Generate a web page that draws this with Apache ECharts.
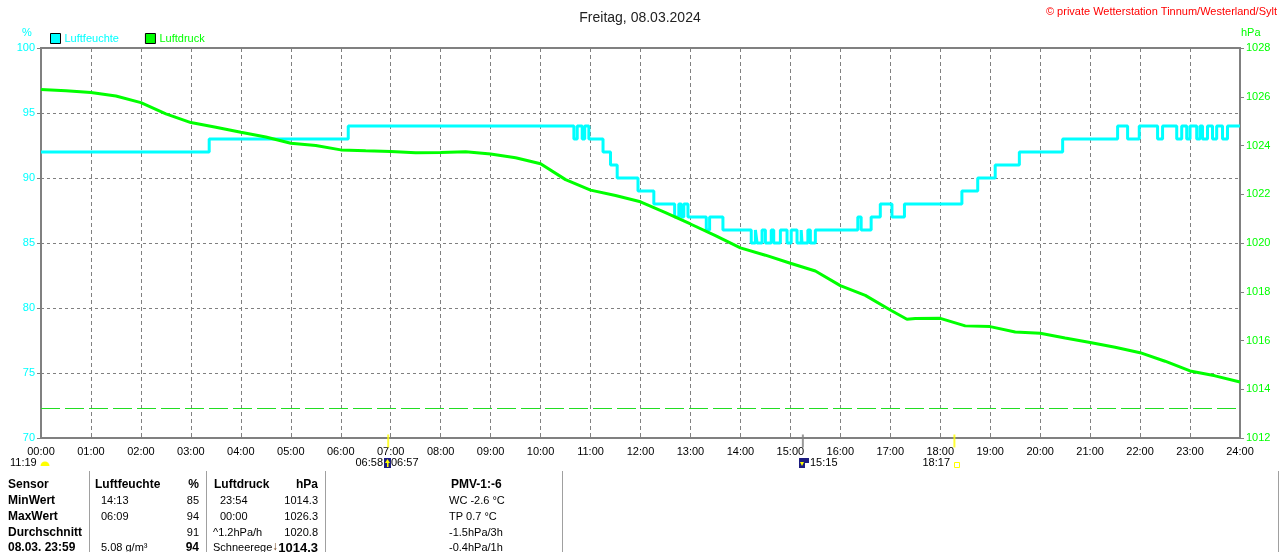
<!DOCTYPE html>
<html lang="de">
<head>
<meta charset="UTF-8">
<title>Luftfeuchte / Luftdruck 08.03.2024</title>
<script src="https://cdn.jsdelivr.net/npm/echarts@6/dist/echarts.min.js"></script>
<style>
  html, body { margin: 0; padding: 0; background: #fff; }
  #main { width: 1280px; height: 552px; }
</style>
</head>
<body>
<div id="main"></div>
<script>
// Luftfeuchte: Zeitpunkt des Wechsels und neuer Wert (%)
const humidityTimes = ['00:00','03:22','06:09','10:40','10:44','10:50','10:53','10:58','11:15','11:24','11:32','11:57',
  '12:16','12:41','12:46','12:49','12:52','12:57','13:19','13:23','13:39','14:13','14:18','14:20','14:26','14:30',
  '14:37','14:40','14:48','14:56','15:01','15:08','15:13','15:14','15:21','15:24','15:30','16:21','16:25','16:37',
  '16:48','17:02','17:17','18:26','18:45','19:06','19:35','20:27','21:33','21:45','21:59','22:21','22:27','22:44',
  '22:50','22:56','23:00','23:08','23:12','23:15','23:21','23:27','23:32','23:39','23:45','24:00'];
const humidityValues = [92,93,94,93,94,93,94,93,92,91,90,89,
  88,87,88,87,88,87,86,87,86,85,86,85,86,85,
  86,85,86,85,86,85,86,85,86,85,86,87,86,87,
  88,87,88,89,90,91,92,93,94,93,94,93,94,93,
  94,93,94,93,94,93,94,93,94,93,94,94];

// Luftdruck (hPa)
const pressureTimes = ['00:00','00:30','01:00','01:30','02:00','02:30','03:00','03:30','04:00','04:30','05:00','05:30',
  '06:00','06:30','07:00','07:30','08:00','08:30','09:00','09:30','10:00','10:30','11:00','11:30','12:00','12:30',
  '13:00','13:30','14:00','14:30','15:00','15:30','16:00','16:30','17:00','17:20','17:30','18:00','18:30','19:00',
  '19:30','20:00','20:30','21:00','21:30','22:00','22:30','23:00','23:30','24:00'];
const pressureValues = [1026.30,1026.25,1026.17,1026.03,1025.76,1025.30,1024.94,1024.75,1024.54,1024.35,1024.09,1024.00,
  1023.82,1023.78,1023.75,1023.70,1023.71,1023.74,1023.65,1023.50,1023.25,1022.60,1022.17,1021.95,1021.69,1021.25,
  1020.78,1020.30,1019.80,1019.50,1019.17,1018.85,1018.25,1017.85,1017.25,1016.87,1016.90,1016.91,1016.60,1016.57,
  1016.35,1016.30,1016.10,1015.92,1015.72,1015.50,1015.15,1014.75,1014.55,1014.30];

const normalPressure = 1013.2;
const sunTimes = ['06:57', '18:17'];
const moonTimes = ['15:15'];

// Tabelle unten
const tableRows = ['Sensor', 'MinWert', 'MaxWert', 'Durchschnitt', '08.03. 23:59'];
const humCol = [['Luftfeuchte', '%'], ['14:13', '85'], ['06:09', '94'], ['', '91'], ['5.08 g/m³', '94']];
const presCol = [['Luftdruck', 'hPa'], ['23:54', '1014.3'], ['00:00', '1026.3'], ['^1.2hPa/h', '1020.8'], ['Schneerege', '1014.3']];
const pmvCol = ['PMV-1:-6', 'WC -2.6 °C', 'TP 0.7 °C', '-1.5hPa/3h', '-0.4hPa/1h'];

const FONT = '"Liberation Sans", Arial, sans-serif';
const CYAN = '#00ffff';
const GREEN = '#00ff00';
const GRAY = '#808080';

function toH(s) {
  const p = s.split(':');
  return +p[0] + (+p[1]) / 60;
}

function txt(x, y, s, o) {
  o = o || {};
  return {
    type: 'text', x: x, y: y, silent: true,
    style: {
      text: s,
      fill: o.color || '#000',
      font: (o.bold ? 'bold ' : '') + (o.size || 11) + 'px ' + FONT,
      align: o.align || 'left',
      verticalAlign: 'middle'
    }
  };
}

const graphics = [];
graphics.push(txt(1277, 12, '© private Wetterstation Tinnum/Westerland/Sylt', { color: '#ff0000', align: 'right' }));
graphics.push(txt(27, 33, '%', { color: CYAN, align: 'center' }));
graphics.push(txt(1241, 33, 'hPa', { color: GREEN }));

// Sonne / Mond unter der Zeitachse
graphics.push(txt(10, 463, '11:19'));
graphics.push({ type: 'sector', silent: true, shape: { cx: 45, cy: 466, r: 4.5, startAngle: Math.PI, endAngle: Math.PI * 2 }, style: { fill: '#ffff00' } });
graphics.push(txt(383, 463, '06:58', { align: 'right' }));
graphics.push({ type: 'rect', silent: true, shape: { x: 384, y: 458, width: 7, height: 10 }, style: { fill: '#1c1c80' } });
graphics.push({ type: 'polygon', silent: true, shape: { points: [[387.5, 459], [390, 463], [385, 463]] }, style: { fill: '#ffff00' } });
graphics.push({ type: 'rect', silent: true, shape: { x: 387, y: 463, width: 1.5, height: 4 }, style: { fill: '#ffff00' } });
graphics.push(txt(391, 463, '06:57'));
graphics.push({ type: 'rect', silent: true, shape: { x: 799, y: 458, width: 10, height: 10 }, style: { fill: '#1c1c80' } });
graphics.push({ type: 'polygon', silent: true, shape: { points: [[800, 462], [804, 462], [802, 466]] }, style: { fill: '#ffff00' } });
graphics.push({ type: 'rect', silent: true, shape: { x: 805, y: 463, width: 4, height: 5 }, style: { fill: '#ffffff' } });
graphics.push(txt(810, 463, '15:15'));
graphics.push(txt(950, 463, '18:17', { align: 'right' }));
graphics.push({ type: 'rect', silent: true, shape: { x: 954.5, y: 462.5, width: 5, height: 5 }, style: { fill: 'none', stroke: '#ffff00', lineWidth: 1 } });

// Tabelle
const rowY = [485, 501, 517, 533, 548];
[89, 206, 325, 562, 1278].forEach(function (x) {
  graphics.push({ type: 'line', silent: true, shape: { x1: x + 0.5, y1: 471, x2: x + 0.5, y2: 552 }, style: { stroke: '#a0a0a0', lineWidth: 1 } });
});
tableRows.forEach(function (label, i) {
  const y = rowY[i];
  const head = i === 0, last = i === tableRows.length - 1;
  graphics.push(txt(8, y, label, { bold: true, size: 12 }));
  graphics.push(txt(head ? 95 : 101, y, humCol[i][0], { bold: head, size: head ? 12 : 11 }));
  graphics.push(txt(199, y, humCol[i][1], { bold: head || last, size: head || last ? 12 : 11, align: 'right' }));
  graphics.push(txt(head ? 214 : (i < 3 ? 220 : 213), y, presCol[i][0], { bold: head, size: head ? 12 : 11 }));
  graphics.push(txt(318, y, presCol[i][1], { bold: head || last, size: head ? 12 : (last ? 13 : 11), align: 'right' }));
  graphics.push(txt(head ? 451 : 449, y, pmvCol[i], { bold: head, size: head ? 12 : 11 }));
});
graphics.push(txt(272, 547, '↓', { bold: true, size: 12, color: '#6b3a10' }));

const chart = echarts.init(document.getElementById('main'));
chart.setOption({
  animation: false,
  backgroundColor: '#fff',
  title: {
    text: 'Freitag, 08.03.2024',
    left: 'center',
    top: 6,
    textStyle: { fontSize: 14, fontWeight: 'normal', color: '#222', fontFamily: FONT }
  },
  legend: {
    left: 50,
    top: 33,
    padding: 0,
    itemWidth: 10,
    itemHeight: 10,
    itemGap: 26,
    icon: 'rect',
    itemStyle: { borderColor: '#000', borderWidth: 1 },
    textStyle: { fontSize: 11, fontFamily: FONT, padding: [0, 0, 0, -1] },
    data: [
      { name: 'Luftfeuchte', textStyle: { color: CYAN } },
      { name: 'Luftdruck', textStyle: { color: GREEN } }
    ]
  },
  grid: {
    left: 41, right: 40, top: 48, bottom: 114,
    show: true, borderColor: GRAY, borderWidth: 2, backgroundColor: '#fff'
  },
  xAxis: {
    type: 'value',
    min: 0, max: 24, interval: 1,
    axisLine: { lineStyle: { color: GRAY, width: 2 } },
    axisTick: { show: false },
    axisLabel: {
      color: '#000', fontSize: 11, fontFamily: FONT, margin: 8,
      formatter: function (v) { return (v < 10 ? '0' : '') + v + ':00'; }
    },
    splitLine: { show: true, lineStyle: { color: GRAY, type: [4, 3], width: 1 } }
  },
  yAxis: [
    {
      type: 'value',
      min: 70, max: 100, interval: 5,
      axisLine: { show: true, lineStyle: { color: GRAY, width: 2 } },
      axisTick: { show: true, length: 4, lineStyle: { color: GRAY } },
      axisLabel: { color: CYAN, fontSize: 11, fontFamily: FONT, margin: 6 },
      splitLine: { show: true, lineStyle: { color: GRAY, type: [3, 3], width: 1 } }
    },
    {
      type: 'value',
      position: 'right',
      min: 1012, max: 1028, interval: 2,
      axisLine: { show: true, lineStyle: { color: GRAY, width: 2 } },
      axisTick: { show: true, length: 4, lineStyle: { color: GRAY } },
      axisLabel: {
        color: GREEN, fontSize: 11, fontFamily: FONT, margin: 6,
        formatter: function (v) { return String(v); }
      },
      splitLine: { show: false }
    }
  ],
  series: [
    {
      name: 'Luftfeuchte',
      type: 'line',
      step: 'end',
      yAxisIndex: 0,
      showSymbol: false,
      symbol: 'none',
      color: CYAN,
      lineStyle: { color: CYAN, width: 3 },
      data: humidityTimes.map(function (t, i) { return [toH(t), humidityValues[i]]; })
    },
    {
      name: 'Luftdruck',
      type: 'line',
      yAxisIndex: 1,
      showSymbol: false,
      symbol: 'none',
      color: GREEN,
      lineStyle: { color: GREEN, width: 3 },
      data: pressureTimes.map(function (t, i) { return [toH(t), pressureValues[i]]; }),
      markLine: {
        silent: true,
        symbol: 'none',
        label: { show: false },
        lineStyle: { color: '#22dd22', type: [19, 5], width: 1 },
        data: [{ yAxis: normalPressure }]
      }
    },
    {
      name: 'Sonne',
      type: 'scatter',
      yAxisIndex: 0,
      silent: true,
      clip: false,
      symbol: 'rect',
      symbolSize: [2, 13],
      symbolOffset: [0, 3],
      itemStyle: { color: '#ffff00' },
      z: 5,
      data: sunTimes.map(function (t) { return [toH(t), 70]; })
    },
    {
      name: 'Mond',
      type: 'scatter',
      yAxisIndex: 0,
      silent: true,
      clip: false,
      symbol: 'rect',
      symbolSize: [2, 13],
      symbolOffset: [0, 3],
      itemStyle: { color: GRAY },
      z: 5,
      data: moonTimes.map(function (t) { return [toH(t), 70]; })
    }
  ],
  graphic: graphics
});
</script>
</body>
</html>
